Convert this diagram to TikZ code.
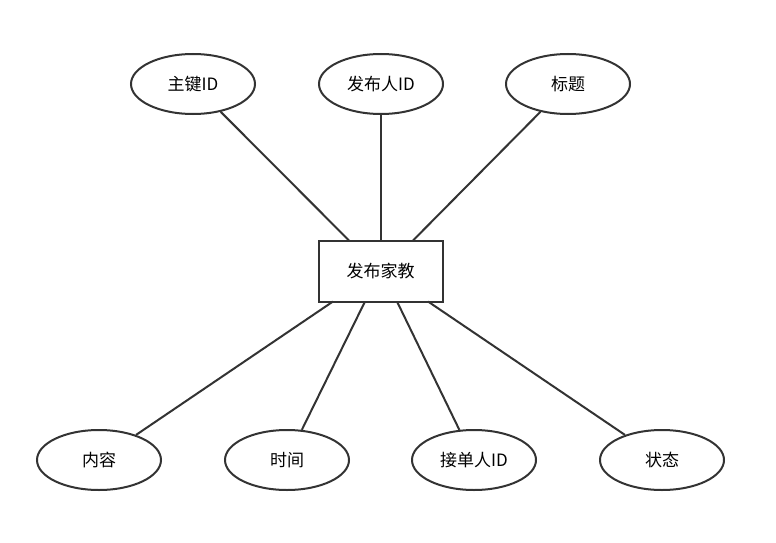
\documentclass[tikz,border=0pt]{standalone}
\usepackage{fontspec}
\setmainfont{Noto Sans CJK SC}
\usetikzlibrary{shapes.geometric}
\definecolor{edge}{HTML}{333333}
\begin{document}
\begin{tikzpicture}[x=1pt,y=-1pt,
  attr/.style={ellipse,draw=edge,line width=2pt,minimum width=124pt,minimum height=60pt,inner sep=0pt,font=\fontsize{17}{20}\selectfont},
  ent/.style={rectangle,draw=edge,line width=2pt,minimum width=124pt,minimum height=61pt,inner sep=0pt,font=\fontsize{17}{20}\selectfont},
  link/.style={draw=edge,line width=2pt}]
\useasboundingbox (0,0) rectangle (776,543);
\node[ent] (r) at (380.5,271) {发布家教};
\node[attr] (a1) at (193,84) {主键ID};
\node[attr] (a2) at (381,84) {发布人ID};
\node[attr] (a3) at (568,84) {标题};
\node[attr] (b1) at (99,460) {内容};
\node[attr] (b2) at (287,460) {时间};
\node[attr] (b3) at (474,460) {接单人ID};
\node[attr] (b4) at (662,460) {状态};
\coordinate (t1) at (349,240.5);
\coordinate (t2) at (381,240.5);
\coordinate (t3) at (413,240.5);
\coordinate (u1) at (333,301.5);
\coordinate (u2) at (365,301.5);
\coordinate (u3) at (397,301.5);
\coordinate (u4) at (428,301.5);
\draw[link] (a1) -- (t1);
\draw[link] (a2) -- (t2);
\draw[link] (a3) -- (t3);
\draw[link] (u1) -- (b1);
\draw[link] (u2) -- (b2);
\draw[link] (u3) -- (b3);
\draw[link] (u4) -- (b4);
\end{tikzpicture}
\end{document}
